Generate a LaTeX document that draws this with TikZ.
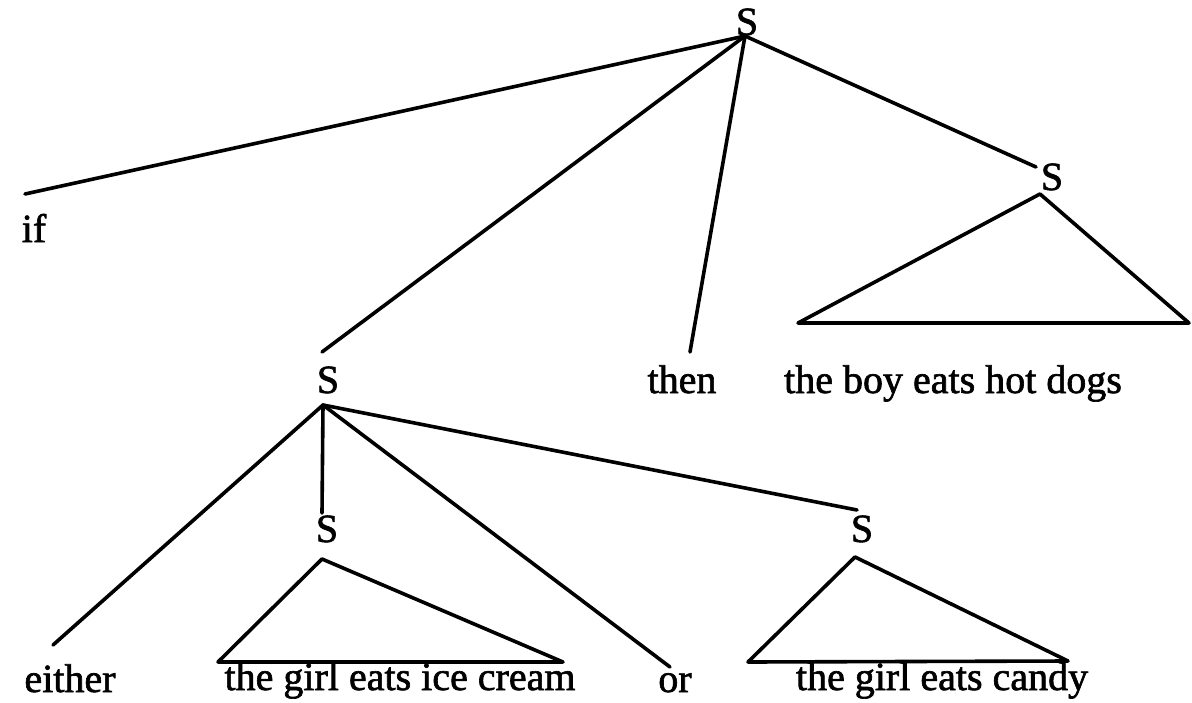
\documentclass[tikz,border=0pt]{standalone}
\usepackage{fontspec}
\setmainfont[FakeBold=1.5]{Liberation Serif}
\newfontfamily\treefont[FakeBold=1.6]{Liberation Serif}
\begin{document}
\begin{tikzpicture}[x=1pt,y=-1pt,
  lbl/.style={anchor=base,inner sep=0pt,font=\treefont\fontsize{40}{48}\selectfont},
  branch/.style={draw=black,line width=3.6pt,line cap=round,line join=round}]
\useasboundingbox (0,0) rectangle (1192,702);

% category labels
\node[lbl] (s0) at (747,35) {S};
\node[lbl] (s1) at (1052,190) {S};
\node[lbl] (s2) at (328,393) {S};
\node[lbl] (s3) at (327,542) {S};
\node[lbl] (s4) at (862,542) {S};

% words and phrases
\node[lbl] (wif) at (34,242) {if};
\node[lbl] (wthen) at (682,393) {then};
\node[lbl] (wboy) at (953,393) {the boy eats hot dogs};
\node[lbl] (weither) at (70,692) {either};
\node[lbl] (wice) at (400,690) {the girl eats ice cream};
\node[lbl] (wor) at (675,692) {or};
\node[lbl] (wcandy) at (942,690) {the girl eats candy};

% attachment points of the branches
\coordinate (s0f) at (745,36);
\coordinate (s1in) at (1036,167);
\coordinate (s1f) at (1040,194);
\coordinate (s2in) at (322,352);
\coordinate (s2f) at (323,405);
\coordinate (s3in) at (322,513);
\coordinate (s3f) at (322,559);
\coordinate (s4in) at (857,510);
\coordinate (s4f) at (855,557);
\coordinate (ifT) at (25,194);
\coordinate (thenT) at (690,352);
\coordinate (eitherT) at (53,645);
\coordinate (orT) at (670,667);

% corners of the phrase triangles
\coordinate (boyL) at (798,323);
\coordinate (boyR) at (1189,323);
\coordinate (iceL) at (218,662);
\coordinate (iceR) at (563,662);
\coordinate (candyL) at (748,662);
\coordinate (candyR) at (1068,661);

% top level
\draw[branch] (s0f) -- (ifT);
\draw[branch] (s0f) -- (s2in);
\draw[branch] (s0f) -- (thenT);
\draw[branch] (s0f) -- (s1in);
\draw[branch] (s1f) -- (boyL) -- (boyR) -- cycle;

% embedded disjunction
\draw[branch] (s2f) -- (eitherT);
\draw[branch] (s2f) -- (s3in);
\draw[branch] (s2f) -- (orT);
\draw[branch] (s2f) -- (s4in);
\draw[branch] (s3f) -- (iceL) -- (iceR) -- cycle;
\draw[branch] (s4f) -- (candyL) -- (candyR) -- cycle;
\end{tikzpicture}
\end{document}
